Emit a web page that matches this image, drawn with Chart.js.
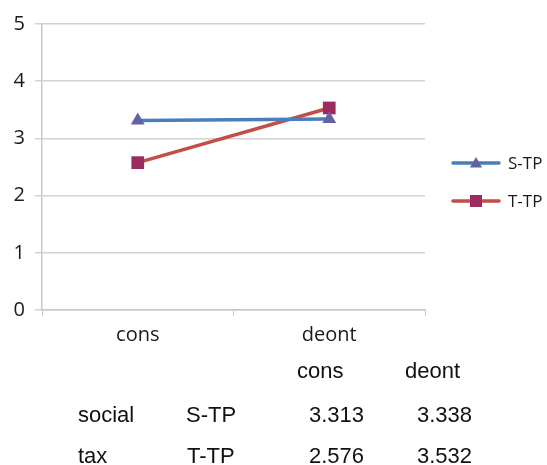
<!DOCTYPE html>
<html>
<head>
<meta charset="utf-8">
<script src="https://cdn.jsdelivr.net/npm/chart.js@4/dist/chart.umd.min.js"></script>
<style>
  html, body { margin: 0; padding: 0; background: #fff; }
  #wrap { position: relative; width: 547px; height: 465px; }
</style>
</head>
<body>
<div id="wrap"><canvas id="c" width="547" height="465"></canvas></div>
<script>
// Conditions on the x axis
const categories = ['cons', 'deont'];
// Series names
const seriesNames = ['S-TP', 'T-TP'];
// Row labels of the summary table
const rowLabels = ['social', 'tax'];
// Mean values per series
const stpValues = [3.313, 3.338];
const ttpValues = [2.576, 3.532];
// Y axis ticks
const yTicks = [0, 1, 2, 3, 4, 5];

const seriesValues = [stpValues, ttpValues];

const styles = [
  { line: '#4a7ebb', point: '#6262a6', shape: 'triangle', radius: 8 },
  { line: '#c44d49', point: '#9c2c60', shape: 'rect', radius: 9 }
];

function drawMarker(ctx, shape, x, y, r, color) {
  ctx.save();
  ctx.fillStyle = color;
  ctx.beginPath();
  if (shape === 'triangle') {
    ctx.moveTo(x, y - r);
    ctx.lineTo(x + r * Math.sin(Math.PI / 3), y + r * 0.5);
    ctx.lineTo(x - r * Math.sin(Math.PI / 3), y + r * 0.5);
    ctx.closePath();
  } else {
    const s = r * Math.SQRT1_2;
    ctx.rect(x - s, y - s, 2 * s, 2 * s);
  }
  ctx.fill();
  ctx.restore();
}

// Legend with line + marker samples, and the value table under the chart
const extras = {
  id: 'extras',
  afterDraw(chart) {
    const ctx = chart.ctx;
    const area = chart.chartArea;
    // legend
    const legendY = [163, 201];
    seriesNames.forEach((name, i) => {
      const st = styles[i];
      const x0 = area.right + 28, x1 = area.right + 74;
      ctx.save();
      ctx.strokeStyle = st.line;
      ctx.lineWidth = 3.5;
      ctx.lineCap = 'round';
      ctx.beginPath();
      ctx.moveTo(x0, legendY[i]);
      ctx.lineTo(x1, legendY[i]);
      ctx.stroke();
      ctx.restore();
      drawMarker(ctx, st.shape, (x0 + x1) / 2, legendY[i] + (st.shape === 'triangle' ? 1 : 0),
                 st.shape === 'triangle' ? 7 : 8.5, st.point);
      ctx.save();
      ctx.fillStyle = '#1a1a1a';
      ctx.font = '17px "Open Sans"';
      ctx.textBaseline = 'middle';
      ctx.textAlign = 'left';
      ctx.fillText(name, area.right + 83, legendY[i] + 1);
      ctx.restore();
    });

    // table
    ctx.save();
    ctx.fillStyle = '#111';
    ctx.font = '22px "Liberation Sans"';
    ctx.textBaseline = 'alphabetic';
    ctx.textAlign = 'left';
    const colX = [309, 417];
    const headX = [297, 405];
    categories.forEach((c, j) => ctx.fillText(c, headX[j], 378));
    const rowY = [422, 463];
    rowLabels.forEach((r, i) => {
      ctx.fillText(r, 78, rowY[i]);
      ctx.fillText(seriesNames[i], i === 0 ? 186 : 187, rowY[i]);
      seriesValues[i].forEach((v, j) => ctx.fillText(v.toFixed(3), colX[j], rowY[i]));
    });
    ctx.restore();
  }
};

new Chart(document.getElementById('c'), {
  type: 'line',
  data: {
    labels: categories,
    datasets: seriesNames.map((name, i) => ({
      label: name,
      data: seriesValues[i],
      borderColor: styles[i].line,
      borderWidth: 3.5,
      backgroundColor: styles[i].point,
      pointBackgroundColor: styles[i].point,
      pointBorderColor: styles[i].point,
      pointBorderWidth: 0,
      pointStyle: styles[i].shape,
      pointRadius: styles[i].radius,
      tension: 0,
      fill: false
    }))
  },
  options: {
    responsive: false,
    animation: false,
    events: [],
    layout: { padding: { left: 0, right: 122, top: 24, bottom: 115 } },
    plugins: { legend: { display: false }, tooltip: { enabled: false } },
    scales: {
      x: {
        offset: true,
        grid: { offset: true, drawOnChartArea: false, drawTicks: true, tickLength: 6, color: '#c8c8c8', lineWidth: 1 },
        border: { color: '#c8c8c8', width: 1.5 },
        ticks: { color: '#1a1a1a', font: { family: 'Open Sans', size: 20 }, padding: 7 },
        afterFit(s) { s.height = 40; }
      },
      y: {
        min: 0, max: 5,
        afterBuildTicks(s) { s.ticks = yTicks.map(v => ({ value: v })); },
        grid: { color: '#d2d2d2', lineWidth: 1.5, drawTicks: true, tickLength: 7 },
        border: { color: '#c8c8c8', width: 1.5 },
        ticks: { color: '#1a1a1a', font: { family: 'Open Sans', size: 20 }, padding: 10 },
        afterFit(s) { s.width = 42; }
      }
    }
  },
  plugins: [extras]
});
</script>
</body>
</html>
